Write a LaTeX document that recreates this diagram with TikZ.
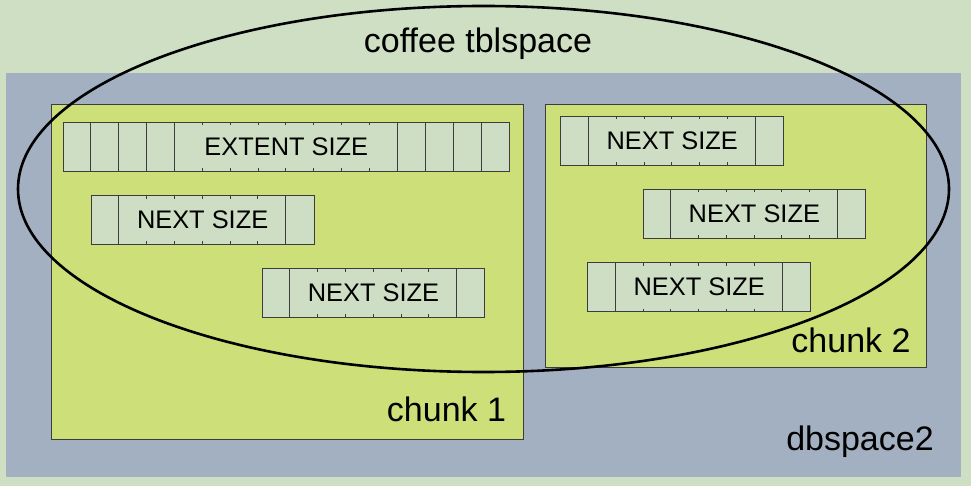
\documentclass[tikz,border=0pt]{standalone}
\usepackage{fontspec}
\setmainfont{Liberation Sans}
\usetikzlibrary{calc,shapes.geometric}
\definecolor{bgc}{RGB}{207,223,196}
\definecolor{dbc}{RGB}{163,176,194}
\definecolor{chc}{RGB}{205,223,120}
\definecolor{segc}{RGB}{206,222,196}
\definecolor{linec}{RGB}{60,60,60}
\newcommand{\segcells}[4]{%
  \foreach \i in {#2} \draw[cellline] ($(#1.north west)+(\i*#4,0)$) -- ($(#1.south west)+(\i*#4,0)$);
  \foreach \i in {#3} {
    \draw[cellline] ($(#1.north west)+(\i*#4,0)$) -- ($(#1.north west)+(\i*#4,3.5)$);
    \draw[cellline] ($(#1.south west)+(\i*#4,0)$) -- ($(#1.south west)+(\i*#4,-3.5)$);
  }}
\begin{document}
\begin{tikzpicture}[x=1pt,y=-1pt,
  chunkbox/.style={draw=linec, fill=chc, line width=0.8pt, inner sep=0pt},
  segbox/.style={draw=linec, fill=segc, line width=0.9pt, inner sep=0pt, minimum width=222.7pt, minimum height=48.8pt, font=\fontsize{25.4}{30}\selectfont},
  cellline/.style={draw=linec, line width=0.8pt},
  biglabel/.style={font=\fontsize{34}{40}\selectfont, inner sep=0pt}]
\fill[bgc] (0,0) rectangle (971,486);
\useasboundingbox (0,0) rectangle (971,486);
\node[fill=dbc, inner sep=0pt, minimum width=955pt, minimum height=404pt] (db) at (483.5,275) {};
\node[chunkbox, minimum width=472pt, minimum height=335pt] (c1) at (287,271.5) {};
\node[chunkbox, minimum width=381pt, minimum height=263pt] (c2) at (735.5,235.5) {};
% extent
\node[segbox, minimum width=446pt] (ext) at (286.3,146.65) {};
\segcells{ext}{1,2,3,4,12,13,14,15}{5,6,7,8,9,10,11}{27.875}
\node[font=\fontsize{25.4}{30}\selectfont, inner sep=0pt] (extl) at (286.3,147) {EXTENT SIZE};
% next sizes chunk 1
\node[segbox] (n1) at (202.65,220) {};
\segcells{n1}{1,7}{2,3,4,5,6}{27.84}
\node[font=\fontsize{25.4}{30}\selectfont, inner sep=0pt] (n1l) at (n1.center) {NEXT SIZE};
\node[segbox] (n2) at (373.5,293) {};
\segcells{n2}{1,7}{2,3,4,5,6}{27.84}
\node[font=\fontsize{25.4}{30}\selectfont, inner sep=0pt] (n2l) at (n2.center) {NEXT SIZE};
% chunk 2
\node[segbox] (na) at (672.2,140.8) {};
\segcells{na}{1,7}{2,3,4,5,6}{27.84}
\node[font=\fontsize{25.4}{30}\selectfont, inner sep=0pt] (nal) at (na.center) {NEXT SIZE};
\node[segbox] (nb) at (754.35,213.8) {};
\segcells{nb}{1,7}{2,3,4,5,6}{27.84}
\node[font=\fontsize{25.4}{30}\selectfont, inner sep=0pt] (nbl) at (nb.center) {NEXT SIZE};
\node[segbox] (nc) at (699.15,287.2) {};
\segcells{nc}{1,7}{2,3,4,5,6}{27.84}
\node[font=\fontsize{25.4}{30}\selectfont, inner sep=0pt] (ncl) at (nc.center) {NEXT SIZE};
% labels
\node[biglabel] (c1l) at (446.5,409) {chunk 1};
\node[biglabel] (c2l) at (851,340) {chunk 2};
\node[biglabel] (dbl) at (860,442) {dbspace2};
\node[biglabel] (tbll) at (478,44) {coffee tblspace};
% tablespace ellipse
\node[draw=black, ellipse, line width=2.6pt, inner sep=0pt, minimum width=931pt, minimum height=366pt] (tbl) at (483.5,189) {};
\end{tikzpicture}
\end{document}
